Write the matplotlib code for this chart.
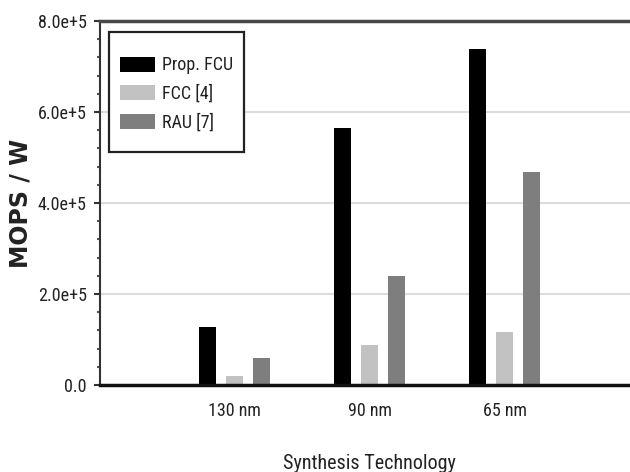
import matplotlib
matplotlib.use("Agg")
import matplotlib.pyplot as plt
from matplotlib.patches import Rectangle
import numpy as np

categories = ["130 nm", "90 nm", "65 nm"]
series_names = ["Prop. FCU", "FCC [4]", "RAU [7]"]
prop_fcu = [1.28e5, 5.65e5, 7.38e5]
fcc = [0.20e5, 0.88e5, 1.16e5]
rau = [0.59e5, 2.40e5, 4.69e5]
y_ticks = [0, 2e5, 4e5, 6e5, 8e5]
y_tick_labels = ["0.0", "2.0e+5", "4.0e+5", "6.0e+5", "8.0e+5"]

colors = ["#000000", "#c2c2c2", "#7e7e7e"]
narrow = ["Liberation Sans Narrow", "Arial Narrow", "Roboto Condensed",
          "Archivo Narrow", "Liberation Sans", "DejaVu Sans"]

fig = plt.figure(figsize=(6.3, 4.72), dpi=100)
ax = fig.add_axes([100 / 630, 87 / 472, 530 / 630, 364 / 472])

x = np.arange(1, len(categories) + 1)
width = 0.126
offset = 0.2
for i, (vals, name) in enumerate(zip([prop_fcu, fcc, rau], series_names)):
    ax.bar(x + (i - 1) * offset, vals, width, color=colors[i], label=name, zorder=3)

ax.set_xlim(0, 3.93)
ax.set_ylim(0, 8e5)
ax.set_yticks(y_ticks)
ax.set_yticklabels(y_tick_labels, family=narrow, fontsize=13, color="#222222")
ax.set_yticks(np.arange(0, 8.01e5, 0.4e5), minor=True)
ax.set_xticks(x)
ax.set_xticklabels(categories, family=narrow, fontsize=13, color="#222222")
ax.tick_params(axis="x", length=0, pad=12)
ax.tick_params(axis="y", which="major", length=4, width=1.5, color="#333333", pad=5.5)
ax.tick_params(axis="y", which="minor", length=2, width=1.5, color="#555555")

for v in y_ticks[1:-1]:
    ax.axhline(v, color="#dcdcdc", lw=1.5, zorder=1)

ax.spines["right"].set_visible(False)
ax.spines["top"].set_linewidth(2.5)
ax.spines["top"].set_color("#474747")
ax.spines["bottom"].set_linewidth(2.5)
ax.spines["bottom"].set_color("#111111")
ax.spines["left"].set_linewidth(1.5)
ax.spines["left"].set_color("#333333")
ax.spines["bottom"].set_zorder(5)

ax.set_xlabel("Synthesis Technology", family=narrow, fontsize=14.5, color="#222222")
ax.xaxis.set_label_coords(0.509, -0.19)
ax.set_ylabel("MOPS / W", family=["DejaVu Sans"], fontweight="bold", fontsize=17, color="#222222")
ax.yaxis.set_label_coords(-0.128, 0.5)

# legend frame
ax.add_patch(Rectangle((9 / 530, 0.640), (244 - 109) / 530, 0.970 - 0.640,
                       transform=ax.transAxes, fill=True, facecolor="white",
                       edgecolor="#222222", lw=1.6, zorder=6, clip_on=False))
leg = ax.legend(loc="upper left", bbox_to_anchor=(20 / 530, 0.903), frameon=False,
                prop={"family": narrow, "size": 13}, handlelength=1.94, handleheight=0.9,
                handletextpad=0.4, labelspacing=0.57, borderpad=0, borderaxespad=0)
leg.set_zorder(7)
for t in leg.get_texts():
    t.set_color("#222222")

fig.savefig("out.png", dpi=100)
